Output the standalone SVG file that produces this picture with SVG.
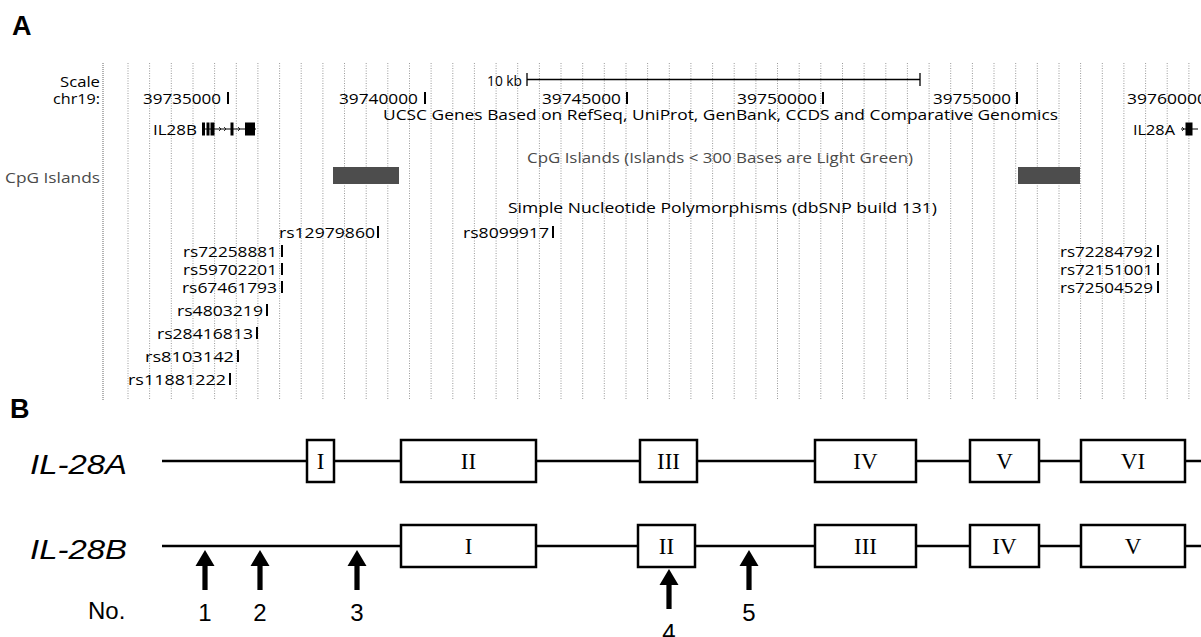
<svg xmlns="http://www.w3.org/2000/svg" width="1201" height="637" viewBox="0 0 1201 637">
<defs>
<style>
.t{font-family:"Open Sans","Liberation Sans",sans-serif;font-size:15px;fill:#000}
.g{fill:#4a4a4a}
.grid{stroke:#9a9a9a;stroke-width:1;stroke-dasharray:1,1.5}
.tick{fill:#000}
.lbl{font-family:"Liberation Sans",Arial,sans-serif;font-weight:bold;font-size:27px;fill:#000}
.gene{font-family:"Liberation Sans",Arial,sans-serif;font-style:italic;font-size:28px;fill:#000}
.num{font-family:"Liberation Sans",Arial,sans-serif;font-size:24px;fill:#000}
.rom{font-family:"Liberation Serif","Times New Roman",serif;font-size:23px;fill:#000;text-anchor:middle}
.ex{fill:#fff;stroke:#000;stroke-width:2.5}
.ln{stroke:#000;stroke-width:2.5}
.cpg{fill:#4d4d4d}
</style>
<path id="arr" d="M0,0 L9.5,16 L2.6,16 L2.6,40 L-2.6,40 L-2.6,16 L-9.5,16 Z" fill="#000"/>
</defs>
<rect width="1201" height="637" fill="#fff"/>

<g id="grid">
<line x1="103" y1="63" x2="103" y2="400" stroke="#666" stroke-width="1" stroke-dasharray="1,1"/>
<line class="grid" x1="128" y1="63" x2="128" y2="400"/><line class="grid" x1="149.6" y1="63" x2="149.6" y2="400"/><line class="grid" x1="171.3" y1="63" x2="171.3" y2="400"/><line class="grid" x1="193" y1="63" x2="193" y2="400"/><line class="grid" x1="214.6" y1="63" x2="214.6" y2="400"/><line class="grid" x1="236.3" y1="63" x2="236.3" y2="400"/><line class="grid" x1="257.9" y1="63" x2="257.9" y2="400"/><line class="grid" x1="279.6" y1="63" x2="279.6" y2="400"/><line class="grid" x1="301.2" y1="63" x2="301.2" y2="400"/><line class="grid" x1="322.9" y1="63" x2="322.9" y2="400"/><line class="grid" x1="344.5" y1="63" x2="344.5" y2="400"/><line class="grid" x1="366.2" y1="63" x2="366.2" y2="400"/><line class="grid" x1="387.8" y1="63" x2="387.8" y2="400"/><line class="grid" x1="409.5" y1="63" x2="409.5" y2="400"/><line class="grid" x1="431.1" y1="63" x2="431.1" y2="400"/><line class="grid" x1="452.8" y1="63" x2="452.8" y2="400"/><line class="grid" x1="474.4" y1="63" x2="474.4" y2="400"/><line class="grid" x1="496.1" y1="63" x2="496.1" y2="400"/><line class="grid" x1="517.7" y1="63" x2="517.7" y2="400"/><line class="grid" x1="539.4" y1="63" x2="539.4" y2="400"/><line class="grid" x1="561" y1="63" x2="561" y2="400"/><line class="grid" x1="582.7" y1="63" x2="582.7" y2="400"/><line class="grid" x1="604.3" y1="63" x2="604.3" y2="400"/><line class="grid" x1="626" y1="63" x2="626" y2="400"/><line class="grid" x1="647.6" y1="63" x2="647.6" y2="400"/><line class="grid" x1="669.3" y1="63" x2="669.3" y2="400"/><line class="grid" x1="690.9" y1="63" x2="690.9" y2="400"/><line class="grid" x1="712.6" y1="63" x2="712.6" y2="400"/><line class="grid" x1="734.2" y1="63" x2="734.2" y2="400"/><line class="grid" x1="755.9" y1="63" x2="755.9" y2="400"/><line class="grid" x1="777.5" y1="63" x2="777.5" y2="400"/><line class="grid" x1="799.2" y1="63" x2="799.2" y2="400"/><line class="grid" x1="820.8" y1="63" x2="820.8" y2="400"/><line class="grid" x1="842.5" y1="63" x2="842.5" y2="400"/><line class="grid" x1="864.1" y1="63" x2="864.1" y2="400"/><line class="grid" x1="885.8" y1="63" x2="885.8" y2="400"/><line class="grid" x1="907.4" y1="63" x2="907.4" y2="400"/><line class="grid" x1="929.1" y1="63" x2="929.1" y2="400"/><line class="grid" x1="950.7" y1="63" x2="950.7" y2="400"/><line class="grid" x1="972.4" y1="63" x2="972.4" y2="400"/><line class="grid" x1="994" y1="63" x2="994" y2="400"/><line class="grid" x1="1015.7" y1="63" x2="1015.7" y2="400"/><line class="grid" x1="1037.3" y1="63" x2="1037.3" y2="400"/><line class="grid" x1="1059" y1="63" x2="1059" y2="400"/><line class="grid" x1="1080.6" y1="63" x2="1080.6" y2="400"/><line class="grid" x1="1102.3" y1="63" x2="1102.3" y2="400"/><line class="grid" x1="1123.9" y1="63" x2="1123.9" y2="400"/><line class="grid" x1="1145.6" y1="63" x2="1145.6" y2="400"/><line class="grid" x1="1167.2" y1="63" x2="1167.2" y2="400"/><line class="grid" x1="1188.9" y1="63" x2="1188.9" y2="400"/>
</g>

<g id="panelA">
<text class="lbl" x="12" y="35">A</text>
<text class="t" x="60" y="87" textLength="40" lengthAdjust="spacingAndGlyphs">Scale</text>
<text class="t" x="53" y="104" textLength="47" lengthAdjust="spacingAndGlyphs">chr19:</text>
<g id="scalebar">
<text class="t" x="487" y="86" textLength="35" lengthAdjust="spacingAndGlyphs">10 kb</text>
<line x1="527" y1="79.5" x2="920" y2="79.5" stroke="#000" stroke-width="1.3"/>
<line x1="527" y1="73" x2="527" y2="86" stroke="#000" stroke-width="1.3"/>
<line x1="920" y1="73" x2="920" y2="86" stroke="#000" stroke-width="1.3"/>
</g>
<g id="coords">
<text class="t" x="143" y="104" textLength="78" lengthAdjust="spacingAndGlyphs">39735000</text><rect class="tick" x="227" y="92" width="2" height="12"/>
<text class="t" x="339" y="104" textLength="79" lengthAdjust="spacingAndGlyphs">39740000</text><rect class="tick" x="424" y="92" width="2" height="12"/>
<text class="t" x="542" y="104" textLength="79" lengthAdjust="spacingAndGlyphs">39745000</text><rect class="tick" x="626" y="92" width="2" height="12"/>
<text class="t" x="737" y="104" textLength="80" lengthAdjust="spacingAndGlyphs">39750000</text><rect class="tick" x="822" y="92" width="2" height="12"/>
<text class="t" x="933" y="104" textLength="78" lengthAdjust="spacingAndGlyphs">39755000</text><rect class="tick" x="1016" y="92" width="2" height="12"/>
<text class="t" x="1127" y="104" textLength="80" lengthAdjust="spacingAndGlyphs">39760000</text>
</g>
<text class="t" x="383" y="120" textLength="675" lengthAdjust="spacingAndGlyphs">UCSC Genes Based on RefSeq, UniProt, GenBank, CCDS and Comparative Genomics</text>
<g id="IL28B-track">
<text class="t" x="153" y="135" textLength="44" lengthAdjust="spacingAndGlyphs">IL28B</text>
<line x1="202" y1="129" x2="256" y2="129" stroke="#000" stroke-width="1"/>
<rect x="202" y="122.5" width="3" height="13" fill="#000"/>
<rect x="206.5" y="122.5" width="3" height="13" fill="#000"/>
<rect x="210.5" y="122.5" width="4" height="13" fill="#000"/>
<path d="M219,127 L221,129 L219,131 M224,127 L226,129 L224,131 M238,127 L240,129 L238,131" fill="none" stroke="#000" stroke-width="0.8"/>
<rect x="230.5" y="122.5" width="3" height="13" fill="#000"/>
<rect x="245" y="122.5" width="10" height="13" fill="#000"/>
</g>
<g id="IL28A-track">
<text class="t" x="1133" y="135" textLength="42" lengthAdjust="spacingAndGlyphs">IL28A</text>
<line x1="1181" y1="129" x2="1198" y2="129" stroke="#000" stroke-width="1"/>
<path d="M1182,127 L1184,129 L1182,131" fill="none" stroke="#000" stroke-width="0.8"/>
<rect x="1185.5" y="122.5" width="7" height="13" fill="#000"/>
</g>
<g id="cpg-track">
<text class="t g" x="527" y="163" textLength="386" lengthAdjust="spacingAndGlyphs">CpG Islands (Islands &lt; 300 Bases are Light Green)</text>
<text class="t g" x="5" y="183" textLength="95" lengthAdjust="spacingAndGlyphs">CpG Islands</text>
<rect class="cpg" x="333" y="167" width="66" height="17"/>
<rect class="cpg" x="1018" y="167" width="62" height="17"/>
</g>
<g id="snp-track">
<text class="t" x="508" y="213" textLength="429" lengthAdjust="spacingAndGlyphs">Simple Nucleotide Polymorphisms (dbSNP build 131)</text>
<text class="t" x="279" y="238" textLength="96" lengthAdjust="spacingAndGlyphs">rs12979860</text><rect class="tick" x="377" y="226" width="2" height="12"/>
<text class="t" x="463" y="238" textLength="86" lengthAdjust="spacingAndGlyphs">rs8099917</text><rect class="tick" x="552" y="226" width="2" height="12"/>
<text class="t" x="183" y="257" textLength="94" lengthAdjust="spacingAndGlyphs">rs72258881</text><rect class="tick" x="281" y="245" width="2" height="12"/>
<text class="t" x="183" y="275" textLength="94" lengthAdjust="spacingAndGlyphs">rs59702201</text><rect class="tick" x="281" y="263" width="2" height="12"/>
<text class="t" x="182" y="293" textLength="95" lengthAdjust="spacingAndGlyphs">rs67461793</text><rect class="tick" x="281" y="281" width="2" height="12"/>
<text class="t" x="177" y="316" textLength="86" lengthAdjust="spacingAndGlyphs">rs4803219</text><rect class="tick" x="266" y="304" width="2" height="12"/>
<text class="t" x="157" y="339" textLength="96" lengthAdjust="spacingAndGlyphs">rs28416813</text><rect class="tick" x="256" y="327" width="2" height="12"/>
<text class="t" x="145" y="362" textLength="89" lengthAdjust="spacingAndGlyphs">rs8103142</text><rect class="tick" x="237" y="350" width="2" height="12"/>
<text class="t" x="128" y="385" textLength="98" lengthAdjust="spacingAndGlyphs">rs11881222</text><rect class="tick" x="229" y="373" width="2" height="12"/>
<text class="t" x="1060" y="257" textLength="93" lengthAdjust="spacingAndGlyphs">rs72284792</text><rect class="tick" x="1157" y="245" width="2" height="12"/>
<text class="t" x="1060" y="275" textLength="93" lengthAdjust="spacingAndGlyphs">rs72151001</text><rect class="tick" x="1157" y="263" width="2" height="12"/>
<text class="t" x="1060" y="293" textLength="93" lengthAdjust="spacingAndGlyphs">rs72504529</text><rect class="tick" x="1157" y="281" width="2" height="12"/>
</g>
</g>

<g id="panelB">
<text class="lbl" x="10" y="418">B</text>
<g id="connectors">
<line class="ln" x1="162" y1="461" x2="1201" y2="461"/>
<line class="ln" x1="162" y1="546" x2="1201" y2="546"/>
</g>
<g id="IL-28A">
<text class="gene" x="30" y="474" textLength="97" lengthAdjust="spacingAndGlyphs">IL-28A</text>
<g id="A-exon1"><rect class="ex" x="307" y="440" width="27" height="42"/><text class="rom" x="320.5" y="469">I</text></g>
<g id="A-exon2"><rect class="ex" x="401" y="440" width="135" height="42"/><text class="rom" x="468.5" y="469">II</text></g>
<g id="A-exon3"><rect class="ex" x="640" y="440" width="57" height="42"/><text class="rom" x="668.5" y="469">III</text></g>
<g id="A-exon4"><rect class="ex" x="815" y="440" width="101" height="42"/><text class="rom" x="865.5" y="469">IV</text></g>
<g id="A-exon5"><rect class="ex" x="970" y="440" width="69" height="42"/><text class="rom" x="1004.5" y="469">V</text></g>
<g id="A-exon6"><rect class="ex" x="1081" y="440" width="104" height="42"/><text class="rom" x="1133" y="469">VI</text></g>
</g>
<g id="IL-28B">
<text class="gene" x="30" y="559" textLength="97" lengthAdjust="spacingAndGlyphs">IL-28B</text>
<g id="B-exon1"><rect class="ex" x="401" y="525" width="135" height="42"/><text class="rom" x="468.5" y="554">I</text></g>
<g id="B-exon2"><rect class="ex" x="638" y="525" width="57" height="42"/><text class="rom" x="666.5" y="554">II</text></g>
<g id="B-exon3"><rect class="ex" x="815" y="525" width="101" height="42"/><text class="rom" x="865.5" y="554">III</text></g>
<g id="B-exon4"><rect class="ex" x="970" y="525" width="69" height="42"/><text class="rom" x="1004.5" y="554">IV</text></g>
<g id="B-exon5"><rect class="ex" x="1081" y="525" width="104" height="42"/><text class="rom" x="1133" y="554">V</text></g>
</g>
<g id="arrows">
<use href="#arr" x="205" y="550"/>
<use href="#arr" x="260" y="550"/>
<use href="#arr" x="357" y="550"/>
<use href="#arr" x="669" y="569"/>
<use href="#arr" x="749" y="550"/>
</g>
<g id="numbers">
<text class="num" x="88" y="619">No.</text>
<text class="num" x="205" y="621" text-anchor="middle">1</text>
<text class="num" x="260" y="621" text-anchor="middle">2</text>
<text class="num" x="357" y="621" text-anchor="middle">3</text>
<text class="num" x="669" y="641" text-anchor="middle">4</text>
<text class="num" x="749" y="621" text-anchor="middle">5</text>
</g>
</g>
</svg>
